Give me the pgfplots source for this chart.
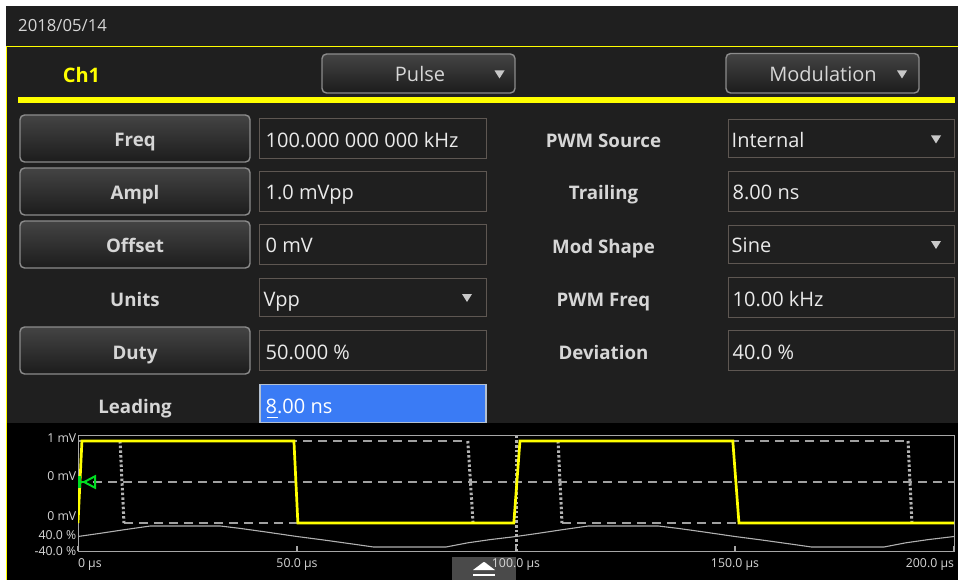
\documentclass[border=0pt]{standalone}
\usepackage{pgfplots}
\pgfplotsset{compat=1.18}
\usepackage{fontspec}
\setmainfont{Open Sans}
\definecolor{bg}{HTML}{1F1F1F}
\definecolor{ylw}{HTML}{FFFF00}
\definecolor{txt}{HTML}{EAEAEA}
\definecolor{lbl}{HTML}{D6D6D6}
\definecolor{boxb}{HTML}{5E5752}
\definecolor{btnb}{HTML}{8C8C8C}
\definecolor{btntop}{HTML}{444444}
\definecolor{btnbot}{HTML}{1C1C1C}
\definecolor{selblue}{HTML}{3A7BF5}
\definecolor{selb}{HTML}{B4C0D0}
\definecolor{frame}{HTML}{A6A6A6}
\definecolor{dashc}{HTML}{A0A0A0}
\definecolor{dotc}{HTML}{B4B4B4}
\definecolor{modc}{HTML}{B0B0B0}
\definecolor{trig}{HTML}{00DD22}
\definecolor{handle}{HTML}{4A4A4A}
\definecolor{tri}{HTML}{C8C8C8}
\newcommand{\uifont}{\fontsize{20}{24}\selectfont}
\newcommand{\bfui}{\fontsize{18.7}{22}\selectfont\bfseries}
\newcommand{\tickf}{\fontsize{12.3}{14}\selectfont}
\tikzset{
  btn/.style={draw=btnb, line width=1.4pt, rounded corners=4.5pt, top color=btntop, bottom color=btnbot},
  vbox/.style={draw=boxb, line width=1pt, fill=bg},
}
\newcommand{\dd}[2]{\fill[tri] (#1-5,#2-4) -- (#1+5,#2-4) -- (#1,#2+4) -- cycle;}
\begin{document}
\begin{tikzpicture}
\begin{scope}[x=1pt,y=-1pt]
\useasboundingbox (0,0) rectangle (958,580);
\fill[white] (0,0) rectangle (958,580);
\fill[bg] (6,6) rectangle (958,580);
% header
\node[anchor=base west, inner sep=0, text=lbl, font=\fontsize{16.7}{19}\selectfont] at (18,31.7) {2018/05/14};
\draw[ylw, line width=1pt] (6,47) -- (958,47);
\draw[ylw, line width=1.3pt] (6.65,47) -- (6.65,580);
\node[anchor=base, inner sep=0, text=ylw, font=\fontsize{20}{24}\selectfont\bfseries] at (81.5,82.7) {Ch1};
\draw[btn] (322,54) rectangle (515,93);
\node[anchor=base, inner sep=0, text=lbl, font=\uifont] at (420,81.7) {Pulse};
\dd{499.5}{74.5}
\draw[btn] (726,53.5) rectangle (919,93);
\node[anchor=base, inner sep=0, text=lbl, font=\uifont] at (823,81.7) {Modulation};
\dd{902}{74.5}
\fill[ylw] (18,97) rectangle (955,103);
% left buttons
\draw[btn] (20,115) rectangle (250,162);
\node[anchor=base, inner sep=0, text=lbl, font=\bfui] at (135,146.3) {Freq};
\draw[btn] (20,168) rectangle (250,215);
\node[anchor=base, inner sep=0, text=lbl, font=\bfui] at (135,199.5) {Ampl};
\draw[btn] (20,221) rectangle (250,268);
\node[anchor=base, inner sep=0, text=lbl, font=\bfui] at (135,252.6) {Offset};
\node[anchor=base, inner sep=0, text=lbl, font=\bfui] at (135,306) {Units};
\draw[btn] (20,327) rectangle (250,374);
\node[anchor=base, inner sep=0, text=lbl, font=\bfui] at (135,359) {Duty};
\node[anchor=base, inner sep=0, text=lbl, font=\bfui] at (135,413) {Leading};
% left value boxes
\draw[vbox] (259.5,118.5) rectangle (486,158.3);
\node[anchor=base west, inner sep=0, text=txt, font=\uifont] at (265.5,147.7) {100.000 000 000 kHz};
\draw[vbox] (259.5,171.7) rectangle (486,211.7);
\node[anchor=base west, inner sep=0, text=txt, font=\uifont] at (265.5,200) {1.0 mVpp};
\draw[vbox] (259.5,224.3) rectangle (486,264.3);
\node[anchor=base west, inner sep=0, text=txt, font=\uifont] at (265.5,252.7) {0 mV};
\draw[vbox] (259.5,278.5) rectangle (486,316.5);
\node[anchor=base west, inner sep=0, text=txt, font=\uifont] at (263.5,306) {Vpp};
\dd{467}{298}
\draw[vbox] (259.5,330.7) rectangle (486,370.7);
\node[anchor=base west, inner sep=0, text=txt, font=\uifont] at (265.5,359.3) {50.000 \%};
\draw[fill=selblue, draw=selb, line width=1.5pt] (260,384.5) rectangle (486,422.5);
\node[anchor=base west, inner sep=0, text=white, font=\uifont] at (265.5,413.3) {8.00 ns};
\fill[white] (267,416.8) rectangle (278,418);
% right labels
\node[anchor=base, inner sep=0, text=lbl, font=\bfui] at (603.5,147.3) {PWM Source};
\node[anchor=base, inner sep=0, text=lbl, font=\bfui] at (603.5,199.5) {Trailing};
\node[anchor=base, inner sep=0, text=lbl, font=\bfui] at (603.5,253) {Mod Shape};
\node[anchor=base, inner sep=0, text=lbl, font=\bfui] at (603.5,306) {PWM Freq};
\node[anchor=base, inner sep=0, text=lbl, font=\bfui] at (603.5,359.3) {Deviation};
% right boxes
\draw[vbox] (728.5,120) rectangle (954.3,157.3);
\node[anchor=base west, inner sep=0, text=txt, font=\uifont] at (731.5,147.3) {Internal};
\dd{936}{139.5}
\draw[vbox] (728.5,171.3) rectangle (954.3,211.3);
\node[anchor=base west, inner sep=0, text=txt, font=\uifont] at (732.5,200) {8.00 ns};
\draw[vbox] (728.5,225.7) rectangle (954.3,263.3);
\node[anchor=base west, inner sep=0, text=txt, font=\uifont] at (731.5,252.7) {Sine};
\dd{936}{245}
\draw[vbox] (728.5,277.3) rectangle (954.3,317.3);
\node[anchor=base west, inner sep=0, text=txt, font=\uifont] at (732.5,306) {10.00 kHz};
\draw[vbox] (728.5,330.3) rectangle (954.3,370.3);
\node[anchor=base west, inner sep=0, text=txt, font=\uifont] at (732.5,359.3) {40.0 \%};
% plot panel
\fill[black] (7.3,423.3) rectangle (958,580);
\fill[handle] (452,557) rectangle (516,580);
\fill[white] (473,570) .. controls (480,565) and (483,562) .. (484,562) .. controls (485,562) and (488,565) .. (495,570) -- cycle;
\fill[white] (473,574.3) rectangle (495,576.3);
\end{scope}
% modulation trace (percent)
\begin{axis}[at={(78pt,-551pt)}, anchor=south west, width=876pt, height=115pt, scale only axis,
  xmin=0, xmax=200, ymin=-55.2, ymax=382.9, hide axis]
\addplot[modc, line width=1.1pt] coordinates {
(0,0) (5,12) (11,27) (16.5,40) (32.5,40) (37,31) (43,17) (50,0) (56,-13) (62,-27) (67.5,-40) (84,-40) (89,-24) (94,-12) (100,0)
(105,12) (111,27) (116.5,40) (132.5,40) (137,31) (143,17) (150,0) (156,-13) (162,-27) (167.5,-40) (184,-40) (189,-24) (194,-12) (200,0)};
\end{axis}
% pulse traces (mV)
\begin{axis}[at={(78pt,-551pt)}, anchor=south west, width=876pt, height=115pt, scale only axis,
  xmin=0, xmax=200, ymin=-0.841, ymax=0.561,
  axis line style={draw=frame, line width=1pt},
  xtick={0,50,100,150,200},
  xticklabels={\rlap{0 µs}, 50.0 µs, 100.0 µs, 150.0 µs, \llap{200.0 µs}},
  xtick pos=bottom, tick align=inside, major tick length=5pt,
  xtick style={draw=frame, line width=2.5pt},
  ytick={-0.841,-0.646,-0.415,0.073,0.537},
  yticklabels={-40.0 \%, 40.0 \%, 0 mV, 0 mV, 1 mV},
  ytick style={draw=none},
  ticklabel style={font=\tickf, text=lbl},
  yticklabel style={anchor=east, inner sep=0pt, xshift=-1.5pt},
  xticklabel style={anchor=north, inner sep=0pt, yshift=-7pt},
]
\addplot[dashc, line width=1.6pt, dash pattern=on 9pt off 6pt] coordinates {(0,0) (200,0)};
\addplot[dashc, line width=1.6pt, dash pattern=on 9pt off 6pt] coordinates {(0,0.5) (89,0.5)};
\addplot[dashc, line width=1.6pt, dash pattern=on 9pt off 6pt] coordinates {(100.9,0.5) (189.5,0.5)};
\addplot[dashc, line width=1.6pt, dash pattern=on 9pt off 6pt] coordinates {(10.5,-0.5) (99.5,-0.5)};
\addplot[dashc, line width=1.6pt, dash pattern=on 9pt off 6pt] coordinates {(110.5,-0.5) (200,-0.5)};
\addplot[dotc, line width=3pt, dash pattern=on 2.5pt off 2.2pt] coordinates {(9.6,0.5) (10.5,-0.5)};
\addplot[dotc, line width=3pt, dash pattern=on 2.5pt off 2.2pt] coordinates {(89,0.5) (90.2,-0.5)};
\addplot[dotc, line width=3pt, dash pattern=on 2.5pt off 2.2pt] coordinates {(109.6,0.5) (110.5,-0.5)};
\addplot[dotc, line width=3pt, dash pattern=on 2.5pt off 2.2pt] coordinates {(189.5,0.5) (190.4,-0.5)};
\addplot[dotc, line width=3pt, dash pattern=on 2.5pt off 2.2pt] coordinates {(100,-0.841) (100,0.561)};
\addplot[ylw, line width=2.7pt] coordinates {(0,-0.5) (0.9,0.5) (49.3,0.5) (50.2,-0.5) (99.5,-0.5) (100.9,0.5) (149.5,0.5) (150.9,-0.5) (200,-0.5)};
\addplot[trig, line width=2.4pt] coordinates {(0.3,0.079) (0.3,-0.079)};
\addplot[trig, line width=1.8pt] coordinates {(0.3,0) (1.4,0)};
\addplot[trig, line width=2pt] coordinates {(1.4,0) (3.9,0.07) (3.9,-0.07) (1.4,0)};
\end{axis}
\end{tikzpicture}
\end{document}
